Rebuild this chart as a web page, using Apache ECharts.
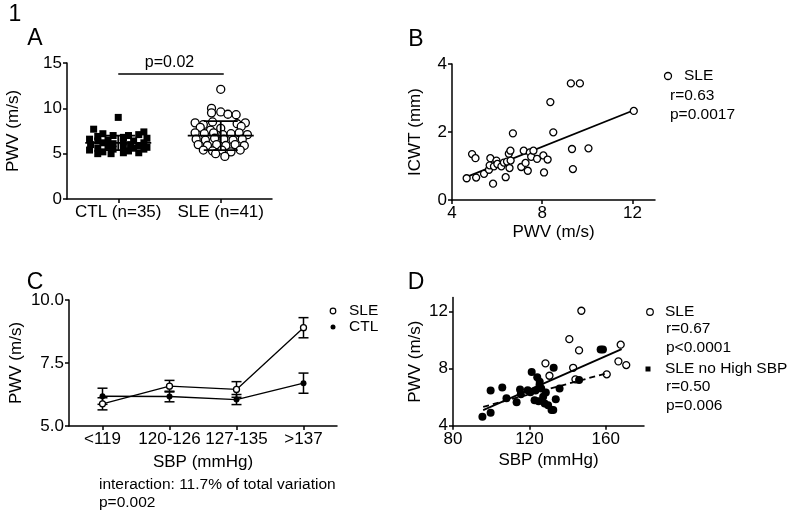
<!DOCTYPE html>
<html><head><meta charset="utf-8">
<script src="https://cdn.jsdelivr.net/npm/echarts@6/dist/echarts.min.js"></script>
<style>html,body{margin:0;padding:0;background:#fff}#c{width:791px;height:516px}</style>
</head><body><div id="c"></div>
<script>
// ---------- Panel A ----------
const catsA = ['CTL (n=35)', 'SLE (n=41)'];
const ctlValuesA = [9.0,7.7,7.4,7.2,7.1,7.0,7.0,6.9,6.8,6.7,6.6,6.5,6.4,6.4,6.3,6.2,6.2,6.1,6.0,6.0,5.9,5.8,5.8,5.7,5.6,5.6,5.5,5.5,5.4,5.3,5.2,5.1,5.1,5.0,5.0];
const ctlJitterA = [0,-0.24,0.25,-0.15,0.2,-0.05,0.1,-0.2,0.05,0.28,-0.28,-0.1,0.15,-0.2,0.05,0.25,-0.15,-0.05,0.12,-0.27,0.2,-0.1,0.05,0.28,-0.2,0.15,-0.05,0.25,-0.28,0.1,-0.15,0.05,0.2,-0.07,-0.2];
const sleValuesA = [12.1,10.0,9.6,9.5,9.35,9.3,8.4,8.2,8.5,8.3,8.4,7.9,7.8,7.6,8.0,7.3,7.2,7.3,7.1,7.2,7.3,7.1,6.6,6.5,6.7,6.6,6.5,6.6,6.0,5.9,6.0,5.9,6.0,5.9,5.4,5.3,5.4,5.2,5.4,5.0,4.7];
const sleJitterA = [0,-0.09,0,-0.09,0.07,0.15,-0.25,-0.17,-0.08,0.16,0.24,-0.2,0,-0.1,0.2,-0.25,-0.16,-0.07,0.02,0.1,0.18,0.26,-0.24,-0.15,-0.06,0.03,0.12,0.21,-0.22,-0.13,-0.04,0.05,0.14,0.23,-0.17,-0.08,0.01,0.1,0.19,-0.05,0.04];
const meanA = [6.2, 7.0];
const sdA = [0.8, 1.6];
const yTicksA = [0, 5, 10, 15];
const pBracketA = {from: 0.5, to: 1.5, y: 13.8, text: 'p=0.02'};

// ---------- Panel B ----------
const pwvB  = [4.65,4.89,5.04,5.07,5.42,5.64,5.70,5.67,5.82,5.86,5.97,6.01,6.19,6.30,6.38,6.44,6.52,6.59,6.60,6.55,6.70,7.07,7.18,7.26,7.36,7.45,7.51,7.61,7.77,8.05,8.24,8.08,8.36,8.49,9.27,9.67,9.32,9.36,10.05,12.06];
const icwtB = [0.64,1.35,1.23,0.66,0.77,0.89,1.23,1.02,0.48,0.99,1.16,1.06,0.99,1.10,0.67,1.13,1.36,1.45,1.16,0.94,1.96,0.97,1.45,1.09,0.86,1.40,1.27,1.45,1.21,1.31,1.19,0.81,2.88,1.99,3.43,3.43,1.50,0.91,1.52,2.62];
const fitB = [[4.68, 0.69], [12.06, 2.64]];
const xTicksB = [4, 8, 12];
const yTicksB = [0, 2, 4];

// ---------- Panel C ----------
const catsC = ['<119', '120-126', '127-135', '>137'];
const sleMeanC = [5.88, 6.58, 6.45, 8.90];
const sleSemC  = [0.24, 0.23, 0.31, 0.40];
const ctlMeanC = [6.18, 6.17, 6.05, 6.70];
const ctlSemC  = [0.32, 0.21, 0.20, 0.40];
const yTicksC = [5.0, 7.5, 10.0];

// ---------- Panel D ----------
const sbpOpenD = [147.2,140.9,146.0,167.8,166.6,170.7,128.4,142.9,130.5,144.1,160.5];
const pwvOpenD = [12.07,10.08,9.29,9.69,8.52,8.26,8.38,8.07,7.51,7.26,7.61];
const sbpFilledD = [95.4,99.7,99.7,105.8,108.0,113.3,115.1,115.5,121.2,120.5,123.2,122.7,124.1,124.8,125.4,126.2,127.2,128.0,128.6,129.8,131.6,132.5,132.7,133.8,135.8,146.0,157.3,158.5,119.1,125.3];
const pwvFilledD = [4.63,4.91,6.48,6.69,5.94,5.66,6.55,6.22,7.77,6.36,6.48,5.80,7.40,5.73,7.09,6.62,6.04,5.57,6.34,5.45,5.10,5.10,8.07,5.87,6.62,7.21,9.36,9.36,6.50,6.86];
const fitAllD = [[95.8, 5.10], [168.3, 9.38]];
const fitNoHighD = [[95.8, 5.33], [160.3, 7.68]];
const xTicksD = [80, 120, 160];
const yTicksD = [4, 8, 12];

// ---------- Texts ----------
const legendB = ['SLE', 'r=0.63', 'p=0.0017'];
const legendC = ['SLE', 'CTL'];
const legendD = ['SLE', 'r=0.67', 'p<0.0001', 'SLE no High SBP', 'r=0.50', 'p=0.006'];
const noteC = ['interaction: 11.7% of total variation', 'p=0.002'];

const FONT = '"Liberation Sans", Arial, sans-serif';
const BLACK = '#000';

function ax(extra) {
  const base = {
    axisLine: {show: true, onZero: false, lineStyle: {color: BLACK, width: 1.5}},
    axisTick: {show: true, length: 4, lineStyle: {color: BLACK, width: 1.5}},
    axisLabel: {color: BLACK, fontSize: 17, margin: 5, fontFamily: FONT},
    splitLine: {show: false},
    nameTextStyle: {color: BLACK, fontSize: 17, fontFamily: FONT},
    nameLocation: 'middle'
  };
  const out = Object.assign({}, base, extra);
  ['axisLine','axisTick','axisLabel','nameTextStyle'].forEach(k => {
    if (extra[k]) out[k] = Object.assign({}, base[k], extra[k]);
  });
  return out;
}

const hollow = {color: '#fff', borderColor: BLACK, borderWidth: 1.3, opacity: 1};
const filled = {color: BLACK, opacity: 1};

function txt(text, x, y, size, align) {
  return {type: 'text', x: x, y: y, style: {text: text, fill: BLACK, font: size + 'px ' + FONT, textAlign: align || 'left', textVerticalAlign: 'middle'}};
}

const chart = echarts.init(document.getElementById('c'), null, {renderer: 'canvas'});

const option = {
  animation: false,
  backgroundColor: '#fff',
  grid: [
    {left: 67, top: 63, width: 205, height: 136},
    {left: 452, top: 64, width: 203, height: 136},
    {left: 69, top: 300, width: 268, height: 126},
    {left: 453, top: 297.5, width: 191, height: 128.3}
  ],
  xAxis: [
    ax({type: 'category', gridIndex: 0, data: catsA, boundaryGap: true,
        axisTick: {alignWithLabel: true}, axisLabel: {interval: 0}}),
    {type: 'value', gridIndex: 0, min: 0, max: 2, show: false},
    ax({type: 'value', gridIndex: 1, min: 4, max: 13, name: 'PWV (m/s)', nameGap: 24,
        axisTick: {customValues: xTicksB}, axisLabel: {customValues: xTicksB}}),
    ax({type: 'category', gridIndex: 2, data: catsC, boundaryGap: true, name: 'SBP (mmHg)', nameGap: 28,
        axisTick: {alignWithLabel: true}, axisLabel: {interval: 0}}),
    ax({type: 'value', gridIndex: 3, min: 80, max: 180, name: 'SBP (mmHg)', nameGap: 26,
        axisTick: {customValues: xTicksD}, axisLabel: {customValues: xTicksD}})
  ],
  yAxis: [
    ax({type: 'value', gridIndex: 0, min: 0, max: 15, name: 'PWV (m/s)', nameGap: 45, nameRotate: 90,
        axisTick: {customValues: yTicksA}, axisLabel: {customValues: yTicksA}}),
    ax({type: 'value', gridIndex: 1, min: 0, max: 4, name: 'ICWT (mm)', nameGap: 28, nameRotate: 90,
        axisTick: {customValues: yTicksB}, axisLabel: {customValues: yTicksB}}),
    ax({type: 'value', gridIndex: 2, min: 5, max: 10, name: 'PWV (m/s)', nameGap: 44, nameRotate: 90,
        axisTick: {customValues: yTicksC},
        axisLabel: {customValues: yTicksC, formatter: v => Number(v).toFixed(1)}}),
    ax({type: 'value', gridIndex: 3, min: 4, max: 13, name: 'PWV (m/s)', nameGap: 29, nameRotate: 90,
        axisTick: {customValues: yTicksD}, axisLabel: {customValues: yTicksD}})
  ],
  series: [
    // Panel A
    {type: 'scatter', name: 'CTL', xAxisIndex: 1, yAxisIndex: 0, symbol: 'rect', symbolSize: 7,
     itemStyle: filled, data: ctlValuesA.map((v, i) => [0.5 + ctlJitterA[i], v])},
    {type: 'scatter', name: 'SLE', xAxisIndex: 1, yAxisIndex: 0, symbol: 'circle', symbolSize: 8,
     itemStyle: hollow, data: sleValuesA.map((v, i) => [1.5 + sleJitterA[i], v])},
    {type: 'custom', xAxisIndex: 1, yAxisIndex: 0, z: 5,
     data: meanA.map((m, i) => [i + 0.5, m, sdA[i]]),
     renderItem: function (params, api) {
       const x = api.value(0), m = api.value(1), s = api.value(2);
       const c = api.coord([x, m]), hi = api.coord([x, m + s]), lo = api.coord([x, m - s]);
       const st = {stroke: BLACK, lineWidth: 1.8};
       return {type: 'group', children: [
         {type: 'line', shape: {x1: c[0] - 33, y1: c[1], x2: c[0] + 33, y2: c[1]}, style: st},
         {type: 'line', shape: {x1: c[0], y1: hi[1], x2: c[0], y2: lo[1]}, style: st},
         {type: 'line', shape: {x1: c[0] - 17, y1: hi[1], x2: c[0] + 17, y2: hi[1]}, style: st},
         {type: 'line', shape: {x1: c[0] - 17, y1: lo[1], x2: c[0] + 17, y2: lo[1]}, style: st}
       ]};
     }},
    {type: 'custom', xAxisIndex: 1, yAxisIndex: 0, z: 5, clip: false,
     data: [[pBracketA.from, pBracketA.to, pBracketA.y]],
     renderItem: function (params, api) {
       const a = api.coord([api.value(0), api.value(2)]), b = api.coord([api.value(1), api.value(2)]);
       return {type: 'group', children: [
         {type: 'line', shape: {x1: a[0], y1: a[1], x2: b[0] + 3, y2: b[1]}, style: {stroke: BLACK, lineWidth: 1.5}},
         {type: 'text', style: {text: pBracketA.text, x: (a[0] + b[0]) / 2, y: a[1] - 3, textAlign: 'center',
           textVerticalAlign: 'bottom', fill: BLACK, font: '16px ' + FONT}}
       ]};
     }},
    // Panel B
    {type: 'scatter', name: 'SLE', xAxisIndex: 2, yAxisIndex: 1, symbol: 'circle', symbolSize: 7,
     itemStyle: hollow, data: pwvB.map((v, i) => [v, icwtB[i]])},
    {type: 'line', xAxisIndex: 2, yAxisIndex: 1, data: fitB, symbol: 'none', z: 1,
     lineStyle: {color: BLACK, width: 1.8}},
    // Panel C
    {type: 'custom', xAxisIndex: 3, yAxisIndex: 2, z: 1,
     data: sleMeanC.map((m, i) => [i, m - sleSemC[i], m + sleSemC[i]]).concat(
           ctlMeanC.map((m, i) => [i, m - ctlSemC[i], m + ctlSemC[i]])),
     renderItem: function (params, api) {
       const lo = api.coord([api.value(0), api.value(1)]), hi = api.coord([api.value(0), api.value(2)]);
       const st = {stroke: BLACK, lineWidth: 1.5};
       return {type: 'group', children: [
         {type: 'line', shape: {x1: lo[0], y1: lo[1], x2: hi[0], y2: hi[1]}, style: st},
         {type: 'line', shape: {x1: lo[0] - 5, y1: lo[1], x2: lo[0] + 5, y2: lo[1]}, style: st},
         {type: 'line', shape: {x1: hi[0] - 5, y1: hi[1], x2: hi[0] + 5, y2: hi[1]}, style: st}
       ]};
     }},
    {type: 'line', name: 'SLE', xAxisIndex: 3, yAxisIndex: 2, data: sleMeanC, symbol: 'circle', symbolSize: 6,
     itemStyle: hollow, lineStyle: {color: BLACK, width: 1.3}, z: 3},
    {type: 'line', name: 'CTL', xAxisIndex: 3, yAxisIndex: 2, data: ctlMeanC, symbol: 'circle', symbolSize: 6,
     itemStyle: filled, lineStyle: {color: BLACK, width: 1.3}, z: 3},
    // Panel D
    {type: 'scatter', name: 'SLE', xAxisIndex: 4, yAxisIndex: 3, symbol: 'circle', symbolSize: 7,
     itemStyle: hollow, data: sbpOpenD.map((v, i) => [v, pwvOpenD[i]])},
    {type: 'scatter', name: 'SLE no High SBP', xAxisIndex: 4, yAxisIndex: 3, symbol: 'circle', symbolSize: 8,
     itemStyle: filled, data: sbpFilledD.map((v, i) => [v, pwvFilledD[i]])},
    {type: 'line', xAxisIndex: 4, yAxisIndex: 3, data: fitAllD, symbol: 'none', z: 4,
     lineStyle: {color: BLACK, width: 1.8}},
    {type: 'line', xAxisIndex: 4, yAxisIndex: 3, data: fitNoHighD, symbol: 'none', z: 4,
     lineStyle: {color: BLACK, width: 1.8, type: [6, 4]}}
  ],
  graphic: [
    txt('1', 15, 15, 23, 'center'),
    txt('A', 35, 39, 23, 'center'),
    txt('B', 416, 40, 23, 'center'),
    txt('C', 35, 283, 23, 'center'),
    txt('D', 416, 283, 23, 'center'),
    // legend B
    {type: 'circle', shape: {cx: 668, cy: 76, r: 3.5}, style: {fill: '#fff', stroke: BLACK, lineWidth: 1.3}},
    txt(legendB[0], 684, 76, 15.5), txt(legendB[1], 670, 96, 15.5), txt(legendB[2], 670, 115, 15.5),
    // legend C
    {type: 'circle', shape: {cx: 333, cy: 311, r: 2.8}, style: {fill: '#fff', stroke: BLACK, lineWidth: 1.2}},
    txt(legendC[0], 349, 311, 15.5),
    {type: 'circle', shape: {cx: 333, cy: 327, r: 2.5}, style: {fill: BLACK}},
    txt(legendC[1], 349, 327, 15.5),
    // note C
    txt(noteC[0], 99, 485, 15.5), txt(noteC[1], 99, 503, 15.5),
    // legend D
    {type: 'circle', shape: {cx: 650, cy: 312, r: 3.3}, style: {fill: '#fff', stroke: BLACK, lineWidth: 1.2}},
    txt(legendD[0], 665, 312, 15.5), txt(legendD[1], 666, 329, 15.5), txt(legendD[2], 666, 348, 15.5),
    {type: 'rect', shape: {x: 645.5, y: 366.5, width: 5, height: 5}, style: {fill: BLACK}},
    txt(legendD[3], 665, 369, 15.5), txt(legendD[4], 666, 387, 15.5), txt(legendD[5], 666, 406, 15.5)
  ]
};
chart.setOption(option);
</script>
</body></html>
